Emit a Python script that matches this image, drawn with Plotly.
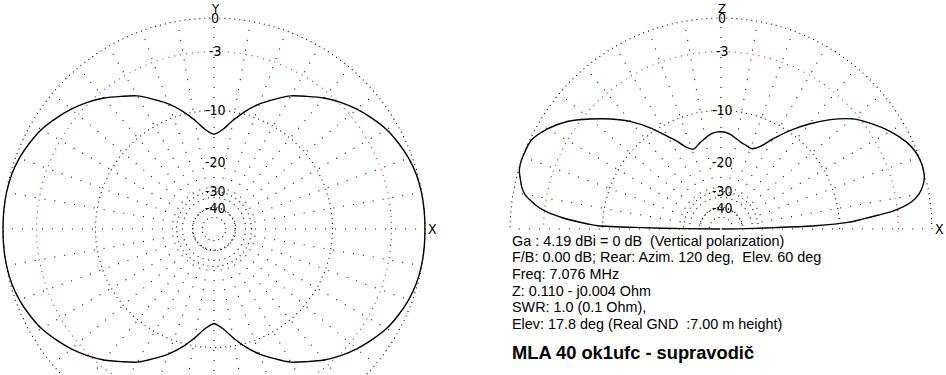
import numpy as np
import plotly.graph_objects as go

# ---------------- data ----------------
# Horizontal (azimuth) pattern, dB relative to max, every 5 degrees
az_deg = list(range(0, 361, 5))
az_db = [0.0, 0.0, -0.03, -0.12, -0.32, -0.63, -1.0, -1.55, -2.15, -2.85, -3.65, -4.6,
         -5.5, -6.75, -8.0, -9.5, -11.25, -13.0, -13.9, -13.0, -11.25, -9.5, -8.0, -6.75,
         -5.5, -4.6, -3.65, -2.85, -2.15, -1.55, -1.0, -0.63, -0.32, -0.12, -0.03, 0.0, 0.0,
         0.0, -0.03, -0.12, -0.32, -0.63, -1.0, -1.55, -2.15, -2.85, -3.65, -4.6, -5.5,
         -6.75, -8.0, -9.5, -11.25, -13.0, -13.9, -13.0, -11.25, -9.5, -8.0, -6.75, -5.5,
         -4.6, -3.65, -2.85, -2.15, -1.55, -1.0, -0.63, -0.32, -0.12, -0.03, 0.0, 0.0]

# Vertical (elevation) pattern, angle measured from +X horizon, dB relative to max
el_deg = [0, 0.5, 1, 1.5, 2, 3, 4, 5, 6, 7, 8, 10, 12, 14, 16, 18, 20, 22, 25,
          30, 35, 40, 45, 50, 55, 60, 65, 69, 73, 77, 81, 85, 90, 95, 100, 105, 109,
          113, 117, 121, 125, 130, 135, 140, 145, 150, 155, 160, 162, 164, 166, 168,
          170, 172, 173, 174, 175, 176, 177, 178, 178.5, 179, 179.5, 180]
el_db = [-99, -45, -32, -24, -14, -8.8, -6.9, -5.1, -3.4, -2.4, -1.65, -0.85, -0.4,
         -0.12, -0.02, 0.0, -0.06, -0.17, -0.5, -1.35, -2.4, -3.62, -5.4, -7.5, -9.8,
         -12.3, -14.7, -15.6, -15.35, -15.0, -14.4, -13.75, -13.45, -13.65, -14.4, -15.3,
         -15.9, -15.0, -13.1, -11.3, -9.3, -7.1, -5.3, -3.65, -2.05, -0.9, -0.12, 0.0,
         0.0, -0.1, -0.35, -0.6, -1.0, -1.8, -2.3, -2.95, -3.8, -5.0, -6.6, -8.3, -9.4,
         -17.0, -30, -99]

ring_db = [0, -10, -30, -40, -50]          # black dotted rings
ref_ring_db = [-3]                          # red dotted ring
label_db = [0, -3, -10, -20, -30, -40]
label_text = ["0", "-3", "-10", "-20", "-30", "-40"]
spoke_step_deg = 10

info_lines = [
    "Ga : 4.19 dBi = 0 dB \u00a0(Vertical polarization)",
    "F/B: 0.00 dB; Rear: Azim. 120 deg, \u00a0Elev. 60 deg",
    "Freq: 7.076 MHz",
    "Z: 0.110 - j0.004 Ohm",
    "SWR: 1.0 (0.1 Ohm),",
    "Elev: 17.8 deg (Real GND \u00a0:7.00 m height)",
]
title_text = "MLA 40 ok1ufc - supravodič"

# ---------------- layout constants ----------------
W, H = 946, 375
R = 211.0                 # px radius of 0 dB ring
C1 = (214.0, 229.0)       # left plot centre (px)
C2 = (721.0, 229.0)       # right plot centre (px)
L_BOX = (0.0, 470.0)
R_BOX = (476.0, 946.0)
NARROW = "Liberation Sans Narrow, DejaVu Sans Condensed, Arial Narrow, sans-serif"
SANS = "Liberation Sans, Arial, sans-serif"


def rs(db):
    """ARRL-style log radial scale (0 dB -> 1)."""
    return 10 ** (np.asarray(db, dtype=float) / 40.0)


def polar_xy(deg, db):
    a = np.radians(np.asarray(deg, dtype=float))
    r = rs(db)
    return r * np.cos(a), r * np.sin(a)


def rings(dbs, a0, a1):
    xs, ys = [], []
    t = np.linspace(np.radians(a0), np.radians(a1), 721)
    for d in dbs:
        r = float(rs(d))
        xs += list(r * np.cos(t)) + [None]
        ys += list(r * np.sin(t)) + [None]
    return xs, ys


def spokes(a0, a1, r0):
    xs, ys = [], []
    for a in range(a0, a1 + 1, spoke_step_deg):
        t = np.radians(a)
        xs += [r0 * np.cos(t), np.cos(t), None]
        ys += [r0 * np.sin(t), np.sin(t), None]
    return xs, ys


fig = go.Figure()

for (ax, ay), (a0, a1, s1) in zip([("x", "y"), ("x2", "y2")],
                                  [(0, 360, 350), (0, 180, 180)]):
    sx, sy = spokes(a0, s1, float(rs(-40)))
    fig.add_trace(go.Scatter(x=sx, y=sy, mode="lines", xaxis=ax, yaxis=ay,
                             line=dict(color="black", width=1.1, dash="1px,9px"),
                             hoverinfo="skip", showlegend=False))
    rx, ry = rings(ring_db, a0, a1)
    fig.add_trace(go.Scatter(x=rx, y=ry, mode="lines", xaxis=ax, yaxis=ay,
                             line=dict(color="black", width=1.1, dash="1px,4px"),
                             hoverinfo="skip", showlegend=False))
    qx, qy = rings(ref_ring_db, a0, a1)
    fig.add_trace(go.Scatter(x=qx, y=qy, mode="lines", xaxis=ax, yaxis=ay,
                             line=dict(color="#ff0000", width=1.1, dash="1px,5px"),
                             hoverinfo="skip", showlegend=False))

px, py = polar_xy(az_deg, az_db)
fig.add_trace(go.Scatter(x=px, y=py, mode="lines", xaxis="x", yaxis="y",
                         line=dict(color="black", width=1.4, shape="spline", smoothing=0.8),
                         showlegend=False))
ex, ey = polar_xy(el_deg, el_db)
fig.add_trace(go.Scatter(x=ex, y=ey, mode="lines", xaxis="x2", yaxis="y2",
                         line=dict(color="black", width=1.4, shape="spline", smoothing=0.8),
                         showlegend=False))

ann = []
for (ax, ay, top, right_lbl) in [("x", "y", "Y", "X"), ("x2", "y2", "Z", "X")]:
    for d, t in zip(label_db, label_text):
        ann.append(dict(x=0, y=float(rs(d)), xref=ax, yref=ay, text=t, showarrow=False,
                        xanchor="center", yanchor="middle", xshift=1, borderpad=0,
                        font=dict(family=NARROW, size=14, color="black")))
    ann.append(dict(x=0, y=1, xref=ax, yref=ay, text=top, showarrow=False,
                    xanchor="center", yanchor="middle", xshift=1, yshift=10, borderpad=0,
                    font=dict(family=NARROW, size=13, color="black")))
    ann.append(dict(x=1, y=0, xref=ax, yref=ay, text=right_lbl, showarrow=False,
                    xanchor="center", yanchor="middle", xshift=7, yshift=0, borderpad=0,
                    font=dict(family=NARROW, size=14, color="black")))

line_y = [240.5, 257.2, 273.9, 290.6, 307.3, 324.0]
for t, yy in zip(info_lines, line_y):
    ann.append(dict(x=510 / W, y=1 - yy / H, xref="paper", yref="paper", text=t,
                    showarrow=False, xanchor="left", yanchor="middle",
                    font=dict(family=SANS, size=14.4, color="black")))
ann.append(dict(x=510 / W, y=1 - 352 / H, xref="paper", yref="paper",
                text="<b>" + title_text + "</b>", showarrow=False,
                xanchor="left", yanchor="middle",
                font=dict(family=SANS, size=18.3, color="black")))

axis_common = dict(visible=False, showgrid=False, zeroline=False, fixedrange=True)
fig.update_layout(
    width=W, height=H, margin=dict(l=0, r=0, t=0, b=0),
    paper_bgcolor="white", plot_bgcolor="white",
    xaxis=dict(domain=[L_BOX[0] / W, L_BOX[1] / W],
               range=[(L_BOX[0] - C1[0]) / R, (L_BOX[1] - C1[0]) / R], **axis_common),
    yaxis=dict(domain=[0, 1], range=[-(H - C1[1]) / R, C1[1] / R], **axis_common),
    xaxis2=dict(domain=[R_BOX[0] / W, R_BOX[1] / W],
                range=[(R_BOX[0] - C2[0]) / R, (R_BOX[1] - C2[0]) / R], **axis_common),
    yaxis2=dict(domain=[0, 1], range=[-(H - C2[1]) / R, C2[1] / R], **axis_common),
    annotations=ann,
    showlegend=False,
    hovermode=False,
)

fig.write_html("out.html",
               config={"displayModeBar": False, "staticPlot": True},
               post_script="document.body.style.margin='0';"
                           "document.body.style.overflow='hidden';")
